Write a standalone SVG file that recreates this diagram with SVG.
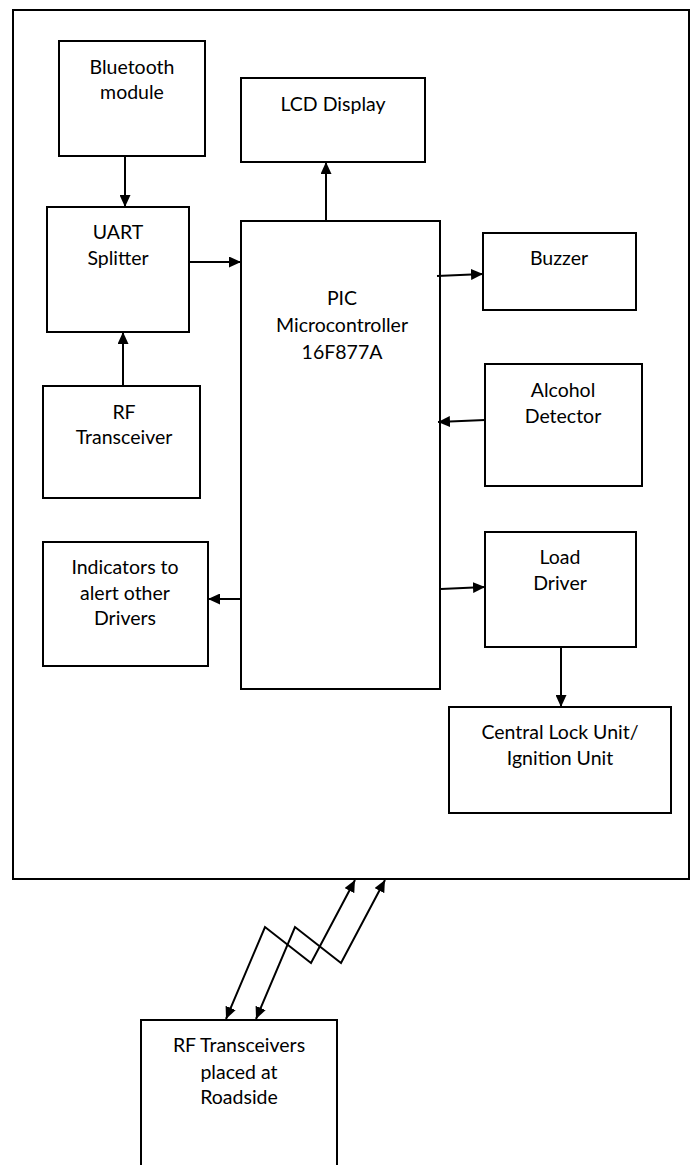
<svg xmlns="http://www.w3.org/2000/svg" width="692" height="1165" viewBox="0 0 692 1165">
<style>
.box{fill:#fff;stroke:#000;stroke-width:2}
.frame{fill:none;stroke:#000;stroke-width:2}
.lbl{font-family:Lato,"Liberation Sans",sans-serif;font-size:19.5px;fill:#000;text-anchor:middle}
.con{fill:none;stroke:#000;stroke-width:2}
</style>
<defs>
<marker id="ah" viewBox="0 0 12 11" refX="12" refY="5.5" markerWidth="12" markerHeight="11" markerUnits="userSpaceOnUse" orient="auto-start-reverse">
<path d="M0,0 L12,5.5 L0,11 Z" fill="#000"/>
</marker>
</defs>
<rect class="frame" x="13" y="10" width="676" height="869"/>
<g id="bluetooth"><rect class="box" x="59" y="41" width="146" height="115"/><text class="lbl" x="132" y="74">Bluetooth</text><text class="lbl" x="132" y="99">module</text></g>
<g id="lcd"><rect class="box" x="241" y="78" width="184" height="84"/><text class="lbl" x="333" y="111">LCD Display</text></g>
<g id="uart"><rect class="box" x="47" y="207" width="142" height="125"/><text class="lbl" x="118" y="239">UART</text><text class="lbl" x="118" y="265">Splitter</text></g>
<g id="pic"><rect class="box" x="241" y="221" width="199" height="468"/><text class="lbl" x="342" y="305">PIC</text><text class="lbl" x="342" y="332">Microcontroller</text><text class="lbl" x="342" y="359">16F877A</text></g>
<g id="buzzer"><rect class="box" x="483" y="233" width="153" height="77"/><text class="lbl" x="559" y="265">Buzzer</text></g>
<g id="rf"><rect class="box" x="43" y="386" width="157" height="112"/><text class="lbl" x="124" y="419">RF</text><text class="lbl" x="124" y="444">Transceiver</text></g>
<g id="alcohol"><rect class="box" x="485" y="364" width="157" height="122"/><text class="lbl" x="563" y="397">Alcohol</text><text class="lbl" x="563" y="423">Detector</text></g>
<g id="indicators"><rect class="box" x="43" y="542" width="165" height="124"/><text class="lbl" x="125" y="574">Indicators to</text><text class="lbl" x="125" y="600">alert other</text><text class="lbl" x="125" y="625">Drivers</text></g>
<g id="load"><rect class="box" x="485" y="532" width="151" height="115"/><text class="lbl" x="560" y="564">Load</text><text class="lbl" x="560" y="590">Driver</text></g>
<g id="central"><rect class="box" x="449" y="707" width="222" height="106"/><text class="lbl" x="560" y="739">Central Lock Unit/</text><text class="lbl" x="560" y="765">Ignition Unit</text></g>
<g id="roadside"><rect class="box" x="141" y="1020" width="196" height="160"/><text class="lbl" x="239" y="1052">RF Transceivers</text><text class="lbl" x="239" y="1079">placed at</text><text class="lbl" x="239" y="1104">Roadside</text></g>
<g id="connectors">
<line class="con" stroke-width="1.5" x1="125" y1="156" x2="125" y2="207" marker-end="url(#ah)"/>
<line class="con" x1="326" y1="221" x2="326" y2="162" marker-end="url(#ah)"/>
<line class="con" x1="189" y1="262" x2="241" y2="262" marker-end="url(#ah)"/>
<line class="con" x1="437" y1="276" x2="483" y2="274" marker-end="url(#ah)"/>
<line class="con" x1="123" y1="386" x2="123" y2="332" marker-end="url(#ah)"/>
<line class="con" x1="485" y1="420" x2="438" y2="422" marker-end="url(#ah)"/>
<line class="con" x1="241" y1="599" x2="208" y2="599" marker-end="url(#ah)"/>
<line class="con" x1="441" y1="589" x2="485" y2="587" marker-end="url(#ah)"/>
<line class="con" x1="561" y1="647" x2="561" y2="707" marker-end="url(#ah)"/>
<polyline class="con" points="226,1019 265,927 311,963 355,880" marker-start="url(#ah)" marker-end="url(#ah)"/>
<polyline class="con" points="256,1019 295,927 341,963 385,880" marker-start="url(#ah)" marker-end="url(#ah)"/>
</g>
</svg>
